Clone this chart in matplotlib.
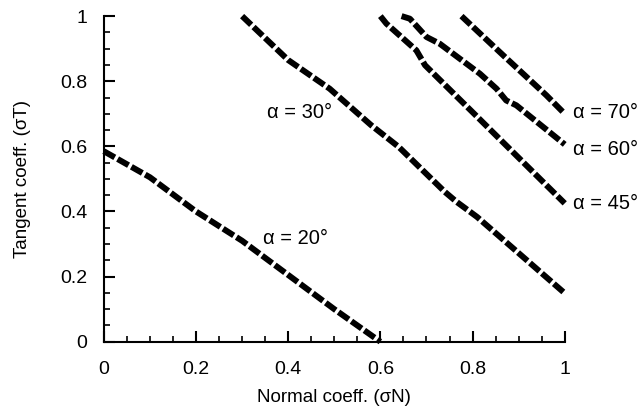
import matplotlib
matplotlib.use("Agg")
import matplotlib.pyplot as plt
from matplotlib.ticker import MultipleLocator

plt.rcParams['font.family'] = ['Liberation Sans', 'DejaVu Sans']

x20 = [0.0, 0.1, 0.2, 0.3, 0.4, 0.5, 0.6]
y20 = [0.585, 0.505, 0.40, 0.31, 0.205, 0.10, 0.0]

x30 = [0.3, 0.4, 0.49, 0.58, 0.64, 0.74, 0.765, 0.81, 1.0]
y30 = [1.0, 0.865, 0.777, 0.665, 0.598, 0.46, 0.43, 0.383, 0.149]

x45 = [0.6, 0.613, 0.678, 0.697, 0.8, 0.9, 1.0]
y45 = [1.0, 0.977, 0.895, 0.849, 0.705, 0.565, 0.425]

x60 = [0.646, 0.664, 0.70, 0.729, 0.816, 0.852, 0.873, 0.895, 1.0]
y60 = [1.0, 0.992, 0.936, 0.915, 0.823, 0.777, 0.741, 0.726, 0.606]

x70 = [0.776, 0.87, 0.96, 1.0]
y70 = [1.0, 0.875, 0.757, 0.70]

labels = ["α = 20°", "α = 30°", "α = 45°", "α = 60°", "α = 70°"]
label_pos = [(0.345, 0.318), (0.354, 0.705), (1.017, 0.425), (1.017, 0.59), (1.017, 0.705)]

fig = plt.figure(figsize=(6.41, 4.13), dpi=100)
ax = fig.add_axes([0.162, 0.1726, 0.719, 0.7884])

series = [(x20, y20), (x30, y30), (x45, y45), (x60, y60), (x70, y70)]
for xs, ys in series:
    ax.plot(xs, ys, color='black', lw=4.3, linestyle=(0, (2.1, 0.55)),
            dash_capstyle='butt', solid_capstyle='butt', clip_on=False)

for lab, (px, py) in zip(labels, label_pos):
    ax.text(px, py, lab, ha='left', va='center', fontsize=14.5)

ax.set_xlim(0, 1)
ax.set_ylim(0, 1)
ax.xaxis.set_major_locator(MultipleLocator(0.2))
ax.yaxis.set_major_locator(MultipleLocator(0.2))
ax.xaxis.set_minor_locator(MultipleLocator(0.05))
ax.yaxis.set_minor_locator(MultipleLocator(0.05))
ax.xaxis.set_major_formatter(lambda v, p: f"{v:g}")
ax.yaxis.set_major_formatter(lambda v, p: f"{v:g}")
for s in ['top', 'right']:
    ax.spines[s].set_visible(False)
for s in ['left', 'bottom']:
    ax.spines[s].set_linewidth(1.5)
ax.tick_params(which='major', direction='in', length=8, width=1.5, labelsize=14)
ax.tick_params(axis='x', which='major', pad=14)
ax.tick_params(axis='y', which='major', pad=12)
ax.tick_params(which='minor', direction='in', length=4, width=1.2)
ax.set_xlabel("Normal coeff. (σN)", fontsize=13.5, labelpad=8)
ax.set_ylabel("Tangent coeff. (σT)", fontsize=13.5, labelpad=21)

fig.savefig("out.png", dpi=100)
